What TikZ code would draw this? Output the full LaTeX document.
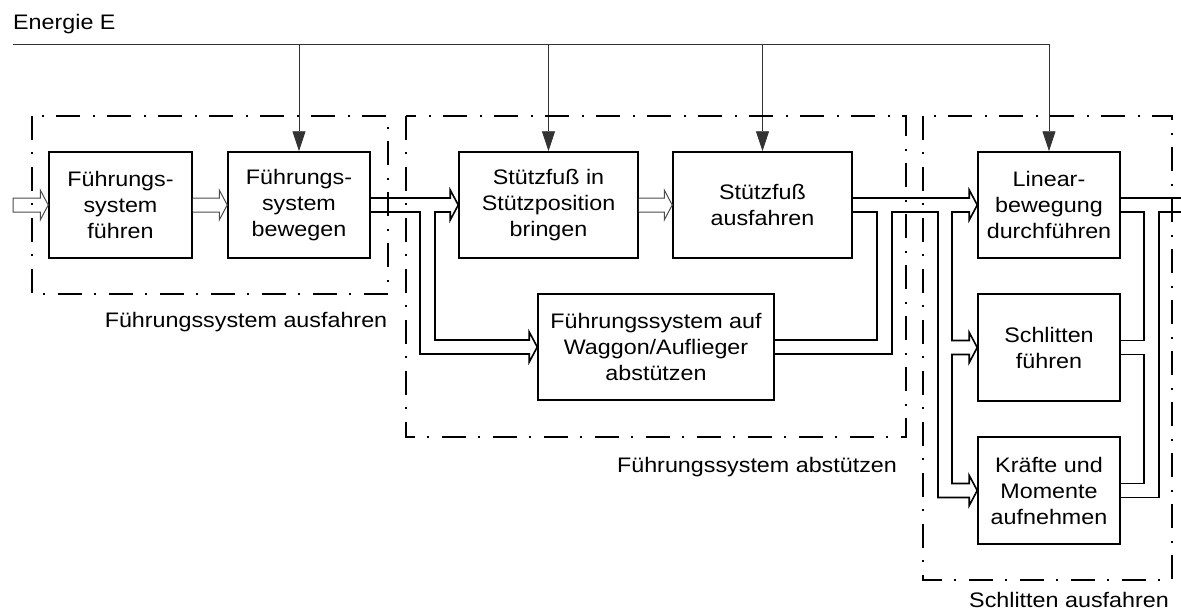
\documentclass[tikz,border=0pt]{standalone}
\usepackage{fontspec}
\setmainfont{Liberation Sans}[FakeStretch=1.11]
\usetikzlibrary{arrows.meta,calc}

% open arrow head ending at the west side of box #1
\newcommand\flowhead[1]{-- (#1-it) -- ($(#1.west)+(-8,-15)$) -- (#1.west) -- ($(#1.west)+(-8,15)$) -- (#1-ib)}

\begin{document}
\begin{tikzpicture}[x=1pt,y=-1pt,
  every node/.style={font=\fontsize{21}{26}\selectfont},
  fbox/.style={draw,line width=1.5pt,align=center,inner sep=0pt,minimum height=106pt},
  flow/.style={draw=black,line width=1.6pt,line join=miter},
  thinflow/.style={draw=black!70,line width=1pt,fill=white,line join=miter},
  eline/.style={draw=black!80,line width=0.9pt},
  earrow/.style={eline,-{Triangle[length=20pt,width=13pt]}},
  frame/.style={line width=2.8pt,dash pattern=on 24pt off 12pt on 2pt off 13pt}]
\useasboundingbox (0,0) rectangle (1181,610);

% function blocks
\node[fbox,minimum width=143pt] (b1) at (120.5,205) {Führungs-\\system\\führen};
\node[fbox,minimum width=142pt] (b2) at (299,205) {Führungs-\\system\\bewegen};
\node[fbox,minimum width=179pt] (b3) at (548.5,205) {Stützfuß in\\Stützposition\\bringen};
\node[fbox,minimum width=179pt] (b4) at (762.5,205) {Stützfuß\\ausfahren};
\node[fbox,minimum width=236pt] (b5) at (656,347) {Führungssystem auf\\Waggon/Auflieger\\abstützen};
\node[fbox,minimum width=142pt] (b6) at (1049,205) {Linear-\\bewegung\\durchführen};
\node[fbox,minimum width=142pt,minimum height=107pt] (b7) at (1049,347.5) {Schlitten\\führen};
\node[fbox,minimum width=142pt,minimum height=107pt] (b8) at (1049,490.5) {Kräfte und\\Momente\\aufnehmen};

% shaft corners of the flow arrows
\foreach \n in {b1,b2,b3,b4,b5,b6,b7,b8} {
  \coordinate (\n-it) at ($(\n.west)+(-8,-7)$);
  \coordinate (\n-ib) at ($(\n.west)+(-8,7)$);
  \coordinate (\n-ot) at ($(\n.east)+(0,-7)$);
  \coordinate (\n-ob) at ($(\n.east)+(0,7)$);
}
% vertical runs of the branching flows
\coordinate (c1) at (420,0);
\coordinate (c2) at (435,0);
\coordinate (c3) at (877,0);
\coordinate (c4) at (892,0);
\coordinate (c5) at (938,0);
\coordinate (c6) at (952,0);
\coordinate (c7) at (1144,0);
\coordinate (c8) at (1159,0);
\coordinate (in) at (13,205);
\coordinate (out) at (1181,205);

% energy supply
\node[anchor=base west,inner sep=0pt] (energy) at (13,30) {Energie E};
\coordinate (e0) at (13,44);
\draw[eline] (e0) -- (b6.north |- e0);
\foreach \n in {b2,b3,b4,b6} \draw[earrow] (\n.north |- e0) -- (\n.north);

% simple flows
\draw[thinflow] ($(in)+(0,-7)$) \flowhead{b1} -- ($(in)+(0,7)$) -- cycle;
\draw[thinflow] (b1-ot) \flowhead{b2} -- (b1-ob);
\draw[thinflow] (b3-ot) \flowhead{b4} -- (b3-ob);

% branching flow into the support blocks
\draw[flow] (b2-ot) \flowhead{b3} -- (c2 |- b3-ib) -- (c2 |- b5-it) \flowhead{b5}
  -- (c1 |- b5-ib) -- (c1 |- b2-ob) -- (b2-ob);

% merging and branching flow into the carriage blocks
\draw[flow] (b4-ot) \flowhead{b6} -- (c6 |- b6-ib) -- (c6 |- b7-it) \flowhead{b7}
  -- (c6 |- b7-ib) -- (c6 |- b8-it) \flowhead{b8}
  -- (c5 |- b8-ib) -- (c5 |- b6-ib) -- (c4 |- b6-ib) -- (c4 |- b5-ob) -- (b5-ob);
\draw[flow] (b5-ot) -- (c3 |- b5-ot) -- (c3 |- b4-ob) -- (b4-ob);

% outgoing flow
\draw[flow] (b6-ot) -- (out |- b6-ot);
\draw[flow] (out |- b6-ob) -- (c8 |- b6-ob) -- (c8 |- b8-ob) -- (b8-ob);
\draw[flow] (b6-ob) -- (c7 |- b6-ob) -- (c7 |- b7-ot) -- (b7-ot);
\draw[flow] (b7-ob) -- (c7 |- b7-ob) -- (c7 |- b8-ot) -- (b8-ot);

% sub-function groups
\draw[frame] (32,116) rectangle (388,294);
\draw[frame] (406,116) rectangle (906,437);
\draw[frame] (923,116) rectangle (1172,580);
\node[anchor=base] (l1) at (246,327) {Führungssystem ausfahren};
\node[anchor=base] (l2) at (757,472) {Führungssystem abstützen};
\node[anchor=base] (l3) at (1069,607) {Schlitten ausfahren};
\end{tikzpicture}
\end{document}
